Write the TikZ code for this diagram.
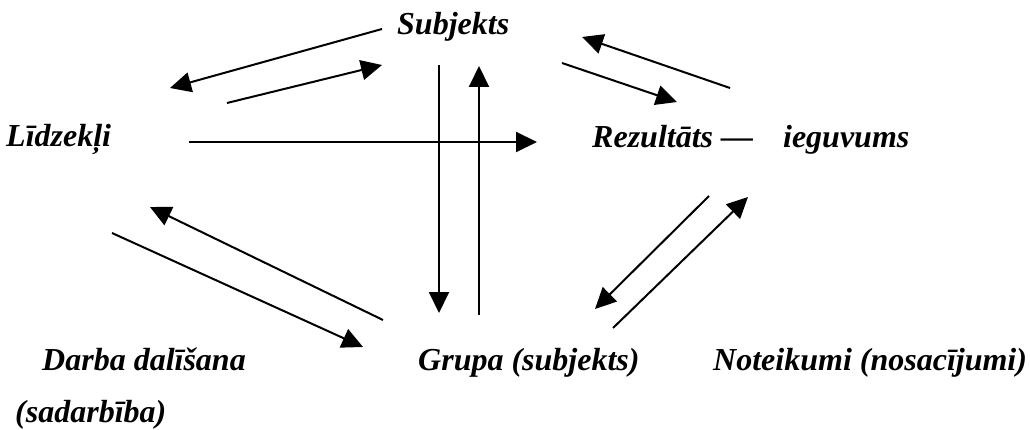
\documentclass[tikz,border=0pt]{standalone}
\usepackage{fontspec}
\setmainfont{Liberation Serif}
\usetikzlibrary{arrows.meta}
\tikzset{
  lbl/.style={inner sep=0pt, anchor=base west,
              font=\fontsize{32}{37}\selectfont\bfseries\itshape},
  arr/.style={-{Triangle[length=21pt, width=20pt]}, line width=2pt},
}
\begin{document}
\begin{tikzpicture}[x=1pt, y=-1pt]

  \useasboundingbox (0,0) rectangle (1030,430);

  \node[lbl] (subj) at (397,35) {Subjekts};
  \node[lbl] (lidz) at (6,147) {Līdzekļi};
  \node[lbl] (rez) at (592,148) {Rezultāts\hspace{8pt}—\hspace{30pt}ieguvums};
  \node[lbl] (grupa) at (418,370) {Grupa (subjekts)};
  \node[lbl] (darba) at (42,370) {Darba dalīšana};
  \node[lbl] (sadarb) at ([xshift=-27pt, yshift=-52pt]darba.base west) {(sadarbība)};
  \node[lbl] (notei) at (713,370) {Noteikumi (nosacījumi)};

  % subjekts <-> lidzekli
  \draw[arr] ([shift={(-15,-6)}]subj.base west) -- ([shift={(164,-59)}]lidz.base west);
  \draw[arr] ([shift={(221,-44)}]lidz.base west) -- ([shift={(-15,30)}]subj.base west);

  % subjekts <-> rezultats
  \draw[arr] ([shift={(165,28)}]subj.base west) -- ([shift={(85,-46)}]rez.base west);
  \draw[arr] ([shift={(138,-60)}]rez.base west) -- ([shift={(185,2)}]subj.base west);

  % lidzekli -> rezultats
  \draw[arr] ([shift={(183,-5)}]lidz.base west) -- ([shift={(-55,-6)}]rez.base west);

  % subjekts <-> grupa
  \draw[arr] ([shift={(42,30)}]subj.base west) -- ([shift={(21,-57)}]grupa.base west);
  \draw[arr] ([shift={(61,-55)}]grupa.base west) -- ([shift={(82,31)}]subj.base west);

  % grupa <-> lidzekli
  \draw[arr] ([shift={(-35,-50)}]grupa.base west) -- ([shift={(144,60)}]lidz.base west);
  \draw[arr] ([shift={(106,86)}]lidz.base west) -- ([shift={(-55,-23)}]grupa.base west);

  % rezultats <-> grupa
  \draw[arr] ([shift={(117,48)}]rez.base west) -- ([shift={(177,-61)}]grupa.base west);
  \draw[arr] ([shift={(195,-42)}]grupa.base west) -- ([shift={(156,49)}]rez.base west);

\end{tikzpicture}
\end{document}
